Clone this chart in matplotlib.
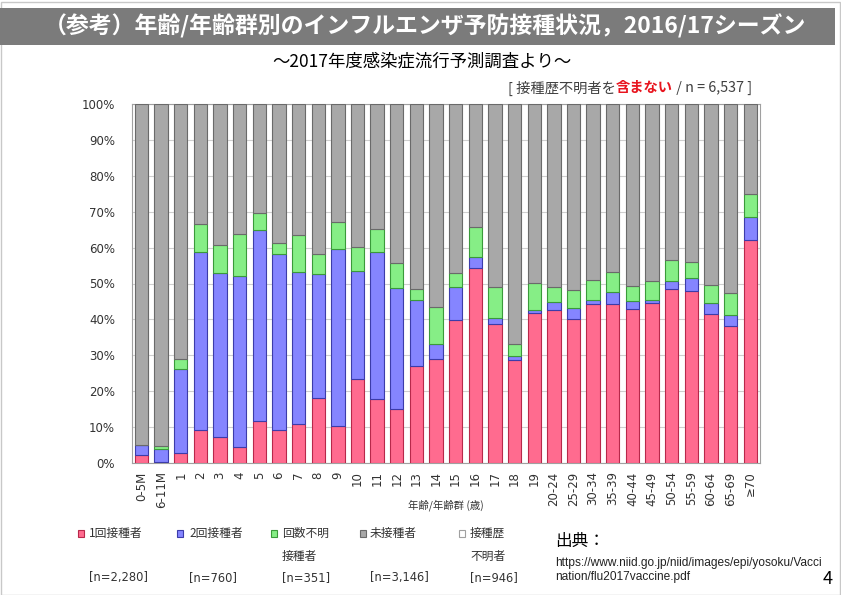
import matplotlib
matplotlib.use("Agg")
import matplotlib.pyplot as plt
from matplotlib.patches import Rectangle
import numpy as np

plt.rcParams['font.family'] = ['Noto Sans CJK JP', 'DejaVu Sans']

# age / age-group categories
ages = ["0-5M", "6-11M"] + [str(i) for i in range(1, 20)] + \
       ["20-24", "25-29", "30-34", "35-39", "40-44", "45-49",
        "50-54", "55-59", "60-64", "65-69", "≥70"]

# percentages
once = [2.3, 0.3, 2.7, 9.3, 7.2, 4.4, 11.6, 9.3, 10.8, 18.1, 10.2, 23.3, 17.7,
        15.0, 26.9, 28.9, 39.7, 54.3, 38.7, 28.6, 41.7,
        42.7, 40.1, 44.2, 44.2, 43.0, 44.7, 48.4, 48.0, 41.6, 38.3, 62.0]
twice = [2.6, 3.5, 23.6, 49.4, 45.7, 47.6, 53.2, 49.0, 42.4, 34.5, 49.4, 30.1, 41.0,
         33.7, 18.6, 4.2, 9.3, 3.2, 1.7, 1.3, 0.8,
         2.2, 3.1, 1.3, 3.5, 2.1, 0.8, 2.2, 3.5, 2.9, 2.9, 6.5]
unknown_cnt = [0.1, 0.9, 2.6, 7.8, 7.7, 11.7, 4.7, 3.1, 10.2, 5.7, 7.5, 6.7, 6.4,
               6.9, 2.9, 10.3, 3.9, 8.2, 8.5, 3.2, 7.6,
               4.1, 5.1, 5.6, 5.6, 4.1, 5.1, 6.0, 4.5, 5.2, 6.1, 6.5]

legend_labels = ["1回接種者", "2回接種者", "回数不明\n接種者", "未接種者", "接種歴\n不明者"]
legend_n = ["[n=2,280]", "[n=760]", "[n=351]", "[n=3,146]", "[n=946]"]

once = np.array(once)
twice = np.array(twice)
unknown_cnt = np.array(unknown_cnt)
none = 100 - once - twice - unknown_cnt

fill = ["#ff6b8f", "#8585ff", "#86ee86", "#a8a8a8", "#ffffff"]
edge = ["#b8284a", "#3c3caa", "#3a9a3a", "#6a6a6a", "#a0a0a0"]

W, H = 841, 595
fig = plt.figure(figsize=(W / 100, H / 100), dpi=100)

# slide frame and title band
fig.patches.append(Rectangle((0.5 / W, 0.5 / H), 1 - 2 / W, 1 - 2 / H, transform=fig.transFigure,
                             fill=False, edgecolor="#c8c8c8", lw=1))
fig.patches.append(Rectangle((0, 1 - 45 / H), 835 / W, 37 / H, transform=fig.transFigure,
                             facecolor="#7b7b7b", edgecolor="none"))
fig.text(425 / W, 1 - 26 / H, "（参考）年齢/年齢群別のインフルエンザ予防接種状況，2016/17シーズン",
         color="white", fontsize=16.5, fontweight="bold", ha="center", va="center")
fig.text(422 / W, 1 - 61 / H, "～2017年度感染症流行予測調査より～",
         fontsize=12.5, ha="center", va="center", color="black")

# note with red part
t1 = fig.text(508 / W, 1 - 88 / H, "[ 接種歴不明者を", fontsize=10.3, va="center", color="#404040")
fig.canvas.draw()
r = fig.canvas.get_renderer()
bb = t1.get_window_extent(r)
t2 = fig.text(bb.x1 / W, 1 - 88 / H, "含まない", fontsize=10.3, va="center",
              color="#e8141e", fontweight="bold")
bb2 = t2.get_window_extent(r)
fig.text(bb2.x1 / W, 1 - 88 / H, " / n = 6,537 ]", fontsize=10.3, va="center", color="#404040")

ax = fig.add_axes([131.7 / W, 1 - 463 / H, (760 - 131.7) / W, (463 - 104) / H])
x = np.arange(len(ages))
bw = 0.68
bottom = np.zeros(len(ages))
for vals, fc, ec in zip([once, twice, unknown_cnt, none], fill, edge):
    ax.bar(x, vals, bw, bottom=bottom, color=fc, edgecolor=ec, linewidth=0.8, zorder=3)
    bottom = bottom + vals

ax.set_xlim(-0.5, len(ages) - 0.5)
ax.set_ylim(0, 100)
ax.set_yticks(np.arange(0, 101, 10))
ax.set_yticklabels([f"{v}%" for v in range(0, 101, 10)], family="DejaVu Sans",
                   fontsize=8.5, color="#333333")
ax.set_xticks(x)
ax.set_xticklabels(ages, rotation=90, family="DejaVu Sans", fontsize=8.5, color="#333333")
ax.tick_params(length=0, pad=6)
ax.tick_params(axis="y", pad=12)
ax.grid(axis="y", color="#cfcfcf", lw=0.8, zorder=0)
for s in ax.spines.values():
    s.set_color("#a0a0a0")

fig.text(446 / W, 1 - 505 / H, "年齢/年齢群 (歳)", fontsize=7.5, ha="center", va="center",
         color="#333333")

# legend boxes
sq_x = [78, 177, 271, 360, 459]
txt_x = [89, 189, 282, 370, 470]
for i in range(5):
    fig.patches.append(Rectangle((sq_x[i] / W, 1 - 537 / H), 6 / W, 7 / H, transform=fig.transFigure,
                                 facecolor=fill[i], edgecolor=edge[i], lw=0.8))
    lines = legend_labels[i].split("\n")
    fig.text(txt_x[i] / W, 1 - 533 / H, lines[0], fontsize=8.5, va="center", color="#333333")
    if len(lines) > 1:
        fig.text(txt_x[i] / W, 1 - 556 / H, lines[1], fontsize=8.5, va="center", color="#333333")
    fig.text(txt_x[i] / W, 1 - 578 / H, legend_n[i], family="DejaVu Sans", fontsize=8.3,
             va="center", color="#333333")

# source
fig.text(555 / W, 1 - 541 / H, "出典：", fontsize=12, va="center", color="black")
fig.text(555 / W, 1 - 563 / H, "https://www.niid.go.jp/niid/images/epi/yosoku/Vacci",
         family="Liberation Sans", fontsize=8.6, va="center", color="#222222")
fig.text(555 / W, 1 - 577 / H, "nation/flu2017vaccine.pdf",
         family="Liberation Sans", fontsize=8.6, va="center", color="#222222")
fig.text(833 / W, 1 - 579 / H, "4", fontsize=13, ha="right", va="center", color="black")

fig.savefig("out.png", dpi=100)
